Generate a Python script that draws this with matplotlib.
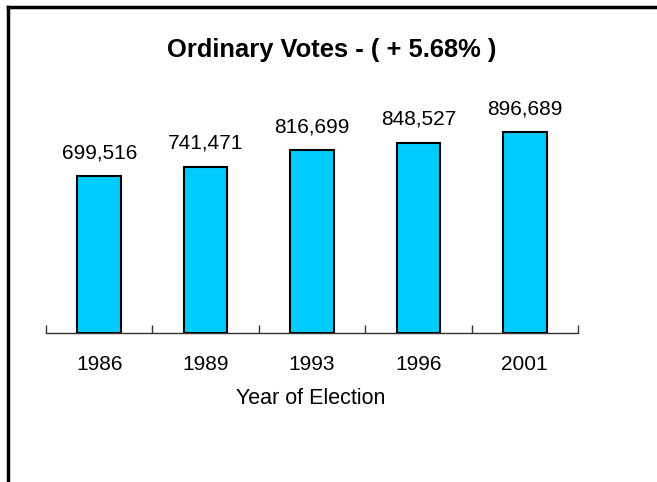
import matplotlib
matplotlib.use('Agg')
import matplotlib.pyplot as plt
from matplotlib.lines import Line2D

plt.rcParams['font.family'] = ['Liberation Sans', 'DejaVu Sans']

# Data
years = ['1986', '1989', '1993', '1996', '2001']
votes = [699516, 741471, 816699, 848527, 896689]
title = 'Ordinary Votes - ( + 5.68% )'

fig = plt.figure(figsize=(6.57, 4.82), dpi=100)
ax = fig.add_axes([46 / 657, 1 - 333 / 482, (578 - 46) / 657, 233 / 482])

x = range(len(years))
ax.bar(x, votes, width=0.41, color='#00CCFF', edgecolor='black', linewidth=1.5, zorder=2)

# value labels above each bar
for i, v in zip(x, votes):
    ax.annotate(f'{v:,}', (i, v), xytext=(0, 14), textcoords='offset pixels',
                ha='center', va='bottom', fontsize=15)

ax.set_xlim(-0.5, len(years) - 0.5)
ax.set_ylim(0, 1.04e6)

# only the bottom axis line, ticks at the category boundaries pointing up
for s in ['left', 'right', 'top']:
    ax.spines[s].set_visible(False)
ax.spines['bottom'].set_linewidth(1.0)
ax.spines['bottom'].set_color('#333333')
ax.set_yticks([])
ax.set_xticks([i - 0.5 for i in range(len(years) + 1)])
ax.set_xticklabels([])
ax.tick_params(axis='x', direction='in', length=6, width=1.0, color='#333333')
for i, yr in enumerate(years):
    ax.annotate(yr, (i, 0), xycoords=('data', 'axes fraction'), xytext=(0, -32),
                textcoords='offset pixels', ha='center', va='center', fontsize=15)

fig.text(332 / 657, 1 - 50 / 482, title, ha='center', va='center',
         fontsize=18.4, fontweight='bold')
fig.text(311 / 657, 1 - 398 / 482, 'Year of Election', ha='center', va='center',
         fontsize=15.5)

# frame around the chart (only top and left edge visible)
fig.add_artist(Line2D([8 / 657, 8 / 657], [0, 1 - 7 / 482], transform=fig.transFigure,
                      color='black', linewidth=2.5))
fig.add_artist(Line2D([8 / 657, 1], [1 - 7 / 482, 1 - 7 / 482], transform=fig.transFigure,
                      color='black', linewidth=2.5))

fig.savefig('out.png', dpi=100)
